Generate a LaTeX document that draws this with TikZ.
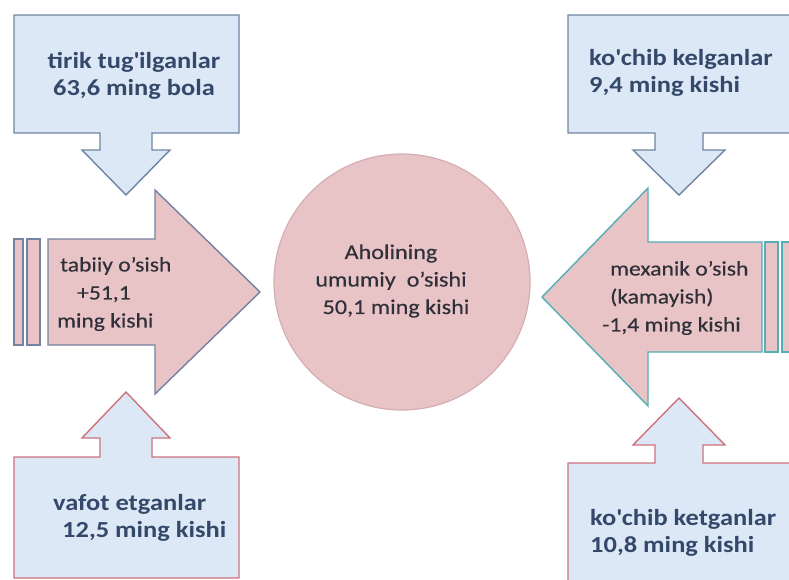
\documentclass[tikz,border=0pt]{standalone}
\usepackage{fontspec}
\setmainfont[FakeStretch=1.15]{Carlito}
\newfontfamily\pinkfont[FakeStretch=1.15,FakeBold=0.4]{Carlito}
\definecolor{boxfill}{HTML}{DCE8F6}
\definecolor{blueedge}{HTML}{7084A2}
\definecolor{rededge}{HTML}{CD727C}
\definecolor{pinkfill}{HTML}{E8C4C6}
\definecolor{grayedge}{HTML}{7482A0}
\definecolor{tealedge}{HTML}{55AEB3}
\definecolor{circedge}{HTML}{D4AEB2}
\definecolor{bluetext}{HTML}{34496A}
\definecolor{darktext}{HTML}{30303A}
\begin{document}
\begin{tikzpicture}[x=1pt,y=-1pt,
  topcall/.style={fill=boxfill, draw=blueedge, line width=1.4pt, line join=miter},
  botcall/.style={fill=boxfill, draw=rededge, line width=1.4pt, line join=miter},
  leftarrow/.style={fill=pinkfill, draw=grayedge, line width=1.4pt, line join=miter},
  rightarrow/.style={fill=pinkfill, draw=tealedge, line width=1.4pt, line join=miter},
  btext/.style={text=bluetext, font=\bfseries\fontsize{23}{27.5}\selectfont, inner sep=0pt},
  ptext/.style={text=darktext, font=\pinkfont\fontsize{20.5}{28}\selectfont, inner sep=0pt}]
\useasboundingbox (0,0) rectangle (789,579);
\clip (0,0) rectangle (789,579);
% top-left callout
\draw[topcall] (14,15) -- (239,15) -- (239,133) -- (152,133) -- (152,150) -- (170,150)
  -- (126,195) -- (82,150) -- (100,150) -- (100,133) -- (14,133) -- cycle;
% top-right callout
\draw[topcall] (568,15) -- (800,15) -- (800,133) -- (703,133) -- (703,150) -- (725,150)
  -- (679,195) -- (633,150) -- (655,150) -- (655,133) -- (568,133) -- cycle;
% bottom-left callout
\draw[botcall] (14,578) -- (14,457) -- (100,457) -- (100,438) -- (82,438) -- (126,392)
  -- (170,438) -- (152,438) -- (152,457) -- (239,457) -- (239,578) -- cycle;
% bottom-right callout
\draw[botcall] (568,600) -- (568,463) -- (655,463) -- (655,445) -- (633,445) -- (679,398)
  -- (725,445) -- (703,445) -- (703,463) -- (800,463) -- (800,600) -- cycle;
% left big arrow
\draw[leftarrow] (14,239) rectangle (23,345);
\draw[leftarrow] (27,239) rectangle (40,345);
\draw[leftarrow] (48,239) -- (155,239) -- (155,190) -- (260,292) -- (155,394)
  -- (155,345) -- (48,345) -- cycle;
% right big arrow
\draw[rightarrow] (782,242) rectangle (800,352);
\draw[rightarrow] (765,242) rectangle (778,352);
\draw[rightarrow] (762,242) -- (648,242) -- (648,188) -- (542,297) -- (648,406)
  -- (648,352) -- (762,352) -- cycle;
% central circle
\draw[fill=pinkfill, draw=circedge, line width=1.2pt] (402,282) circle[radius=128];
% texts
\node[btext, align=center] (tltxt) at (134,76) {tirik tug\textquotesingle ilganlar\\63,6 ming bola};
\node[btext, align=left, anchor=west] (trtxt) at (589,73) {ko\textquotesingle chib kelganlar\\9,4 ming kishi};
\node[btext, align=left, anchor=west] (bltxt) at (53,518) {vafot etganlar\\\hspace*{9pt}12,5 ming kishi};
\node[btext, align=left, anchor=west] (brtxt) at (590,533) {ko\textquotesingle chib ketganlar\\10,8 ming kishi};
\node[ptext, align=left, anchor=west] (latxt) at (57,294) {\hspace*{3pt}tabiiy o’sish\\\hspace*{20pt}+51,1\\ming kishi};
\node[ptext, align=left, anchor=west] (ratxt) at (602,298) {\hspace*{8pt}mexanik o’sish\\\hspace*{8pt}(kamayish)\\-1,4 ming kishi};
\node[ptext, align=center, font=\pinkfont\fontsize{21}{27.5}\selectfont] (ctxt) at (391,281) {Aholining\\umumiy~~o’sishi\\\hspace*{10pt}50,1 ming kishi};
\end{tikzpicture}
\end{document}
